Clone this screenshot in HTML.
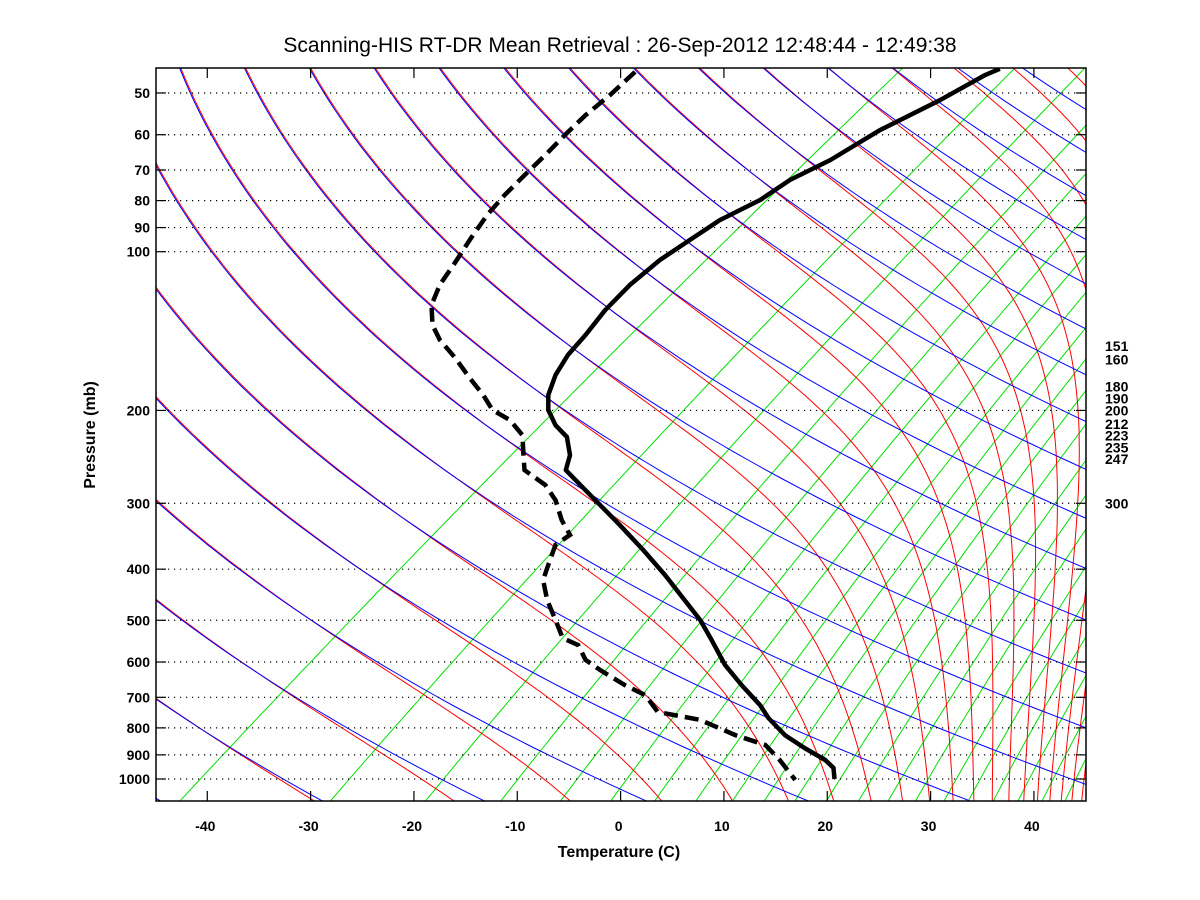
<!DOCTYPE html>
<html><head><meta charset="utf-8"><style>
html,body{margin:0;padding:0;background:#fff;}
svg{display:block;font-family:"Liberation Sans",sans-serif;}
</style></head><body>
<svg id="chart" width="1200" height="900" viewBox="0 0 1200 900" xmlns="http://www.w3.org/2000/svg">
<rect width="1200" height="900" fill="#fff"/>
<defs><clipPath id="pc"><rect x="156" y="68" width="930" height="733"/></clipPath></defs>
<text x="620" y="52" font-size="21" text-anchor="middle">Scanning-HIS RT-DR Mean Retrieval : 26-Sep-2012 12:48:44 - 12:49:38</text>
<g id="bg" clip-path="url(#pc)"></g>
<g id="grid"></g>
<g id="prof" clip-path="url(#pc)"></g>
<rect x="156" y="68" width="930" height="733" fill="none" stroke="#000" stroke-width="1.5"/>
<g id="axes"></g>
<text x="619" y="857" font-size="16" font-weight="bold" text-anchor="middle">Temperature (C)</text>
<text x="0" y="0" font-size="16" font-weight="bold" text-anchor="middle" transform="translate(95,435) rotate(-90)">Pressure (mb)</text>
</svg>
<script>
// Data arrays
const xTicks = [-40,-30,-20,-10,0,10,20,30,40];
const pTicks = [50,60,70,80,90,100,200,300,400,500,600,700,800,900,1000];
const rightLabels = ["151","160","180","190","200","212","223","235","247","300"];
const rightLabelP = [151,160,180,190,200,212,223,235,247,300];
const tempP = [45,46.2,51.6,58.8,67,73.1,79.8,87.1,95,103.7,115.6,129.1,143.9,157,171.4,187,199.6,213.3,224.6,243.1,259.5,276.9,302,329.6,368.1,410.3,458,499.4,544.6,607.7,663.4,724.4,766.2,825.6,873.5,920.4,952.8,1000];
const tempT = [36.7,35.3,30.9,25.1,20.3,16.4,13.5,9.6,6.7,3.8,0.9,-1.5,-3.4,-5.1,-6.3,-7.0,-7.0,-6.3,-5.2,-4.9,-5.3,-3.9,-2.0,-0.1,2.2,4.3,6.2,7.7,8.8,10.1,11.7,13.5,14.3,15.9,17.8,19.8,20.6,20.7];
const dewP = [45.6,50.4,55.1,60.1,65.6,71.6,78,85.1,95,104.7,115.6,126.2,137.8,147,159.1,173.6,187,199.6,208.6,222.7,243.1,259.5,276.9,295.8,322.8,344.4,359.7,392.6,419.3,458,499.4,540.6,557.2,594.2,621,663.4,693.4,746.4,772.7,825.6,862,920.4,1004];
const dewT = [1.4,-1.0,-3.4,-5.4,-7.3,-9.3,-11.2,-12.9,-14.6,-16.0,-17.5,-18.3,-18.2,-17.5,-16.0,-14.6,-13.3,-12.4,-10.7,-9.5,-9.4,-9.3,-7.3,-6.3,-5.7,-4.9,-6.3,-7.0,-7.5,-7.1,-6.3,-5.6,-4.1,-3.4,-2.0,0.4,2.4,3.6,7.7,11.1,14.0,15.4,16.9];
const mixW = [0.11,0.45,1.0,1.8,2.8,4.0,5.4,7.1,9.0,11.0,13.3,16.1,19.5,23.2,27.2,32.0,36.7,42.2,48.4,55.3,62.7];
const thetaStart = 240.5, thetaStep = 15.25;

const NS="http://www.w3.org/2000/svg";
const X0=620.6, XS=10.333, Y1000=779, YD=527.3, K=1.364;
function yP(p){return Y1000+YD*Math.log10(p/1000);}
function xAxis(t){return X0+XS*t;}
function xTP(T,p){return X0+XS*T+K*(Y1000-yP(p));}
function mk(tag,attrs,parent){const e=document.createElementNS(NS,tag);for(const k in attrs)e.setAttribute(k,attrs[k]);parent.appendChild(e);return e;}
const bg=document.getElementById('bg'),grid=document.getElementById('grid'),prof=document.getElementById('prof'),axes=document.getElementById('axes');
const levels=[];for(let i=0;i<=80;i++){levels.push(44*Math.pow(1110/44,i/80));}
function es(T){return 6.112*Math.exp(17.67*T/(T+243.5));}
function thetaE(T,p){const Tk=T+273.15;const w=0.622*es(T)/Math.max(p-es(T),1);return Tk*Math.pow(1000/p,0.286)*Math.exp(2.5e6*w/(1004*Tk));}
function poly(pts,color,w,name){
  const e=mk('polyline',{points:pts.map(a=>a[0].toFixed(1)+','+a[1].toFixed(1)).join(' '),fill:'none',stroke:color,'stroke-width':w},bg);
  
  
}
// mixing ratio lines
mixW.forEach(w=>{
  const pts=levels.map(p=>{const e=w*p/(622+w);const L=Math.log(e/6.112);const T=243.5*L/(17.67-L);return [xTP(T,p),yP(p)];});
  poly(pts,'#00e000',1,'mixing-ratio-line');
});
// moist adiabats (offset slightly) then dry adiabats on top
for(let n=-3;n<=40;n++){
  const th=thetaStart+thetaStep*n;
  const rp=levels.map(p=>{let lo=-160,hi=80;for(let i=0;i<40;i++){const m=(lo+hi)/2;if(thetaE(m,p)<th)lo=m;else hi=m;}return [xTP((lo+hi)/2,p)+1,yP(p)-0.5];});
  poly(rp,'#ff0000',1,'moist-adiabat');
}
for(let n=-3;n<=40;n++){
  const th=thetaStart+thetaStep*n;
  const bp=levels.map(p=>{const T=th*Math.pow(p/1000,0.286)-273.15;return [xTP(T,p),yP(p)];});
  poly(bp,'#0000ff',1,'dry-adiabat');
}
// grid + y labels + ticks
pTicks.forEach(p=>{
  const y=yP(p);
  const g=mk('line',{x1:156,x2:1086,y1:y,y2:y,stroke:'#000','stroke-width':1.2,'stroke-dasharray':'1.2 4.8'},grid);
  
  
  mk('line',{x1:156,x2:166,y1:y,y2:y,stroke:'#000','stroke-width':1.2},axes);
  mk('line',{x1:1076,x2:1086,y1:y,y2:y,stroke:'#000','stroke-width':1.2},axes);
  const t=mk('text',{x:150,y:y+5,'font-size':14,'font-weight':'bold','text-anchor':'end'},axes);
  t.textContent=p;
  
  
});
xTicks.forEach(v=>{
  const x=xAxis(v);
  mk('line',{x1:x,x2:x,y1:791,y2:801,stroke:'#000','stroke-width':1.2},axes);
  mk('line',{x1:x,x2:x,y1:68,y2:78,stroke:'#000','stroke-width':1.2},axes);
  const t=mk('text',{x:x-2,y:831,'font-size':14,'font-weight':'bold','text-anchor':'middle'},axes);
  t.textContent=v;
  
  
});
rightLabels.forEach((s,i)=>{
  const t=mk('text',{x:1105,y:yP(rightLabelP[i])+5,'font-size':14,'font-weight':'bold'},axes);
  t.textContent=s;
  
  
});
// profiles
const tl=mk('polyline',{points:tempP.map((p,i)=>xAxis(tempT[i]).toFixed(1)+','+yP(p).toFixed(1)).join(' '),fill:'none',stroke:'#000','stroke-width':4.5,'stroke-linejoin':'round'},prof);


const dl=mk('polyline',{points:dewP.map((p,i)=>xAxis(dewT[i]).toFixed(1)+','+yP(p).toFixed(1)).join(' '),fill:'none',stroke:'#000','stroke-width':4.5,'stroke-dasharray':'14 7'},prof);


</script>
</body></html>
